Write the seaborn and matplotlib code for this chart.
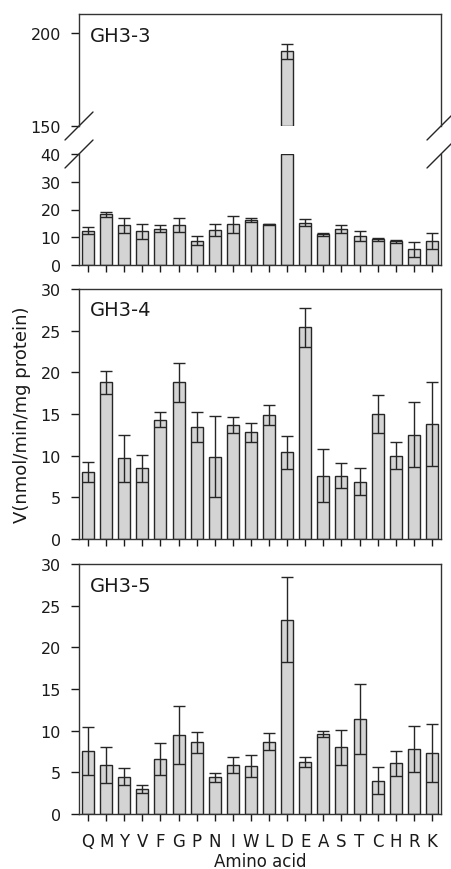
import matplotlib
matplotlib.use('Agg')
import matplotlib.pyplot as plt
import numpy as np
import pandas as pd
import seaborn as sns

# Data (mean +/- error)
amino = ['Q', 'M', 'Y', 'V', 'F', 'G', 'P', 'N', 'I', 'W',
         'L', 'D', 'E', 'A', 'S', 'T', 'C', 'H', 'R', 'K']

gh33_mean = [12.4, 18.3, 14.3, 12.1, 13.1, 14.3, 8.8, 12.5, 14.7, 16.3,
             14.6, 190.0, 15.3, 11.0, 12.9, 10.4, 9.3, 8.6, 5.7, 8.7]
gh33_err = [1.2, 0.9, 2.8, 2.6, 1.2, 2.5, 1.7, 2.2, 3.0, 0.7,
            0.3, 4.0, 1.1, 0.4, 1.4, 1.7, 0.6, 0.5, 2.7, 3.0]

gh34_mean = [8.0, 18.8, 9.7, 8.5, 14.3, 18.8, 13.5, 9.9, 13.7, 12.8,
             14.9, 10.4, 25.4, 7.6, 7.6, 6.9, 15.0, 10.0, 12.5, 13.8]
gh34_err = [1.2, 1.4, 2.8, 1.6, 0.9, 2.3, 1.8, 4.9, 1.0, 1.1,
            1.2, 2.0, 2.3, 3.2, 1.5, 1.6, 2.3, 1.6, 3.9, 5.0]

gh35_mean = [7.6, 5.9, 4.5, 3.0, 6.6, 9.5, 8.6, 4.4, 5.9, 5.8,
             8.7, 23.3, 6.3, 9.6, 8.0, 11.4, 4.0, 6.1, 7.8, 7.3]
gh35_err = [2.9, 2.2, 1.0, 0.5, 1.9, 3.5, 1.3, 0.5, 1.0, 1.3,
            1.0, 5.1, 0.6, 0.4, 2.1, 4.2, 1.6, 1.5, 2.8, 3.5]

break_lo, break_hi = 40, 150

sns.set_style('white')
plt.rcParams['font.family'] = ['DejaVu Sans']
plt.rcParams['text.color'] = '#1a1a1a'
plt.rcParams['axes.labelcolor'] = '#1a1a1a'
plt.rcParams['xtick.color'] = '#1a1a1a'
plt.rcParams['ytick.color'] = '#1a1a1a'

BAR = '#d4d4d4'
EDGE = '#262626'
W, H = 452, 870

fig = plt.figure(figsize=(W / 100, H / 100), dpi=100)


def px_axes(left, top, right, bottom):
    return fig.add_axes([left / W, 1 - bottom / H, (right - left) / W, (bottom - top) / H])


def style(ax, yticks, xlabels=False):
    ax.set_xlim(-0.5, len(amino) - 0.5)
    ax.set_yticks(yticks)
    for s in ax.spines.values():
        s.set_color('#333333')
        s.set_linewidth(1.0)
    ax.tick_params(axis='y', direction='out', length=5.5, width=1, labelsize=11.5, pad=7.5,
                   left=True, right=False)
    ax.tick_params(axis='x', direction='out', length=4.7, width=1, labelsize=12, pad=8.5,
                   bottom=True, top=False, labelbottom=xlabels)
    ax.set_xlabel('')
    ax.set_ylabel('')


def draw(ax, mean, err, heights=None, bottom=None):
    df = pd.DataFrame({'aa': amino, 'v': mean if heights is None else heights})
    kw = {}
    if bottom is not None:
        keep = np.array(mean) > bottom
        df = df[keep]
        kw['bottom'] = bottom
    sns.barplot(data=df, x='aa', y='v', order=amino, color=BAR, saturation=1,
                edgecolor=EDGE, linewidth=1.0, width=0.66, errorbar=None, ax=ax, **kw)
    ax.errorbar(np.arange(len(amino)), mean, yerr=err, fmt='none', ecolor=EDGE,
                elinewidth=1.0, capsize=4, capthick=1.0, zorder=3)


def panel_label(ax, text):
    ax.annotate(text, xy=(0, 1), xycoords='axes fraction', xytext=(11, -21),
                textcoords='offset pixels', ha='left', va='center', fontsize=14)


# GH3-3 with broken axis
ax_top = px_axes(79, 15, 441, 127)
ax_bot = px_axes(79, 155, 441, 266)
mean33 = np.array(gh33_mean)
draw(ax_top, gh33_mean, gh33_err, heights=mean33 - break_hi, bottom=break_hi)
draw(ax_bot, gh33_mean, gh33_err, heights=np.minimum(mean33, break_lo))
ax_top.set_ylim(break_hi, 210)
ax_bot.set_ylim(0, break_lo)
style(ax_top, [150, 200])
style(ax_bot, [0, 10, 20, 30, 40])
ax_top.spines['bottom'].set_visible(False)
ax_top.tick_params(axis='x', bottom=False)
ax_bot.spines['top'].set_visible(False)
panel_label(ax_top, 'GH3-3')

# break marks on the spines
for ax, y, hpx in ((ax_top, 0, 112), (ax_bot, 1, 111)):
    dx, dy = 14 / 362, 14 / hpx
    for x in (0, 1):
        ax.plot([x - dx, x + dx], [y - dy, y + dy], transform=ax.transAxes,
                color=EDGE, lw=1.0, clip_on=False)

# GH3-4
ax4 = px_axes(79, 290, 441, 540)
draw(ax4, gh34_mean, gh34_err)
ax4.set_ylim(0, 30)
style(ax4, range(0, 31, 5))
panel_label(ax4, 'GH3-4')
ax4.set_ylabel('V(nmol/min/mg protein)', fontsize=13, labelpad=7)

# GH3-5
ax5 = px_axes(79, 565, 441, 815)
draw(ax5, gh35_mean, gh35_err)
ax5.set_ylim(0, 30)
style(ax5, range(0, 31, 5), xlabels=True)
panel_label(ax5, 'GH3-5')
ax5.set_xlabel('Amino acid', fontsize=12, labelpad=1)

fig.savefig('out.png', dpi=100)
